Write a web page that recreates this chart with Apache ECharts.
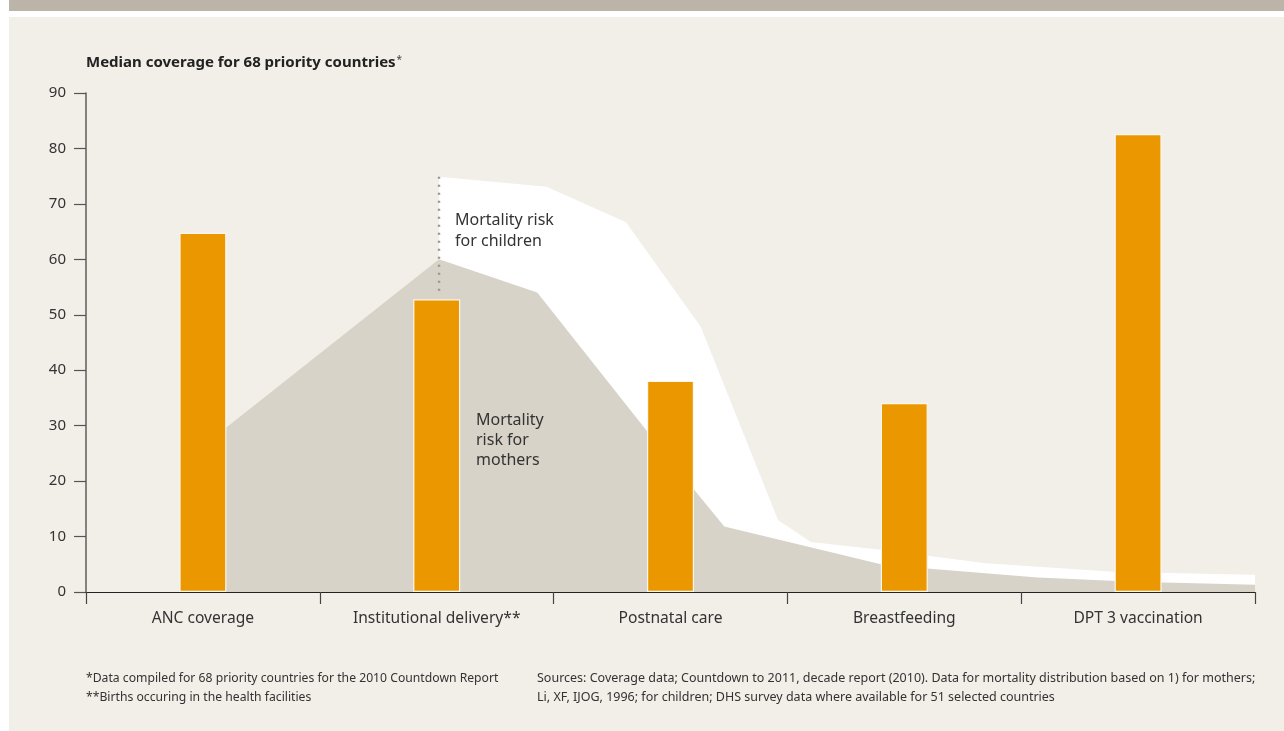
<!DOCTYPE html>
<html>
<head>
<meta charset="utf-8">
<script src="https://cdn.jsdelivr.net/npm/echarts@6/dist/echarts.min.js"></script>
<style>
html,body{margin:0;padding:0;background:#ffffff;}
#main{width:1284px;height:731px;}
</style>
</head>
<body>
<div id="main"></div>
<script>
// ---- data ----
const categories = ['ANC coverage', 'Institutional delivery**', 'Postnatal care', 'Breastfeeding', 'DPT 3 vaccination'];
const coverage = [64.8, 52.8, 38.1, 34.1, 82.6];
const yTicks = [0, 10, 20, 30, 40, 50, 60, 70, 80, 90];
// mortality areas: [position in category units (0..5), value]
const motherRisk = [[0.58, 29.0], [1.51, 60.0], [1.93, 54.0], [2.40, 29.0], [2.61, 18.0], [2.73, 11.8], [3.40, 5.0], [3.61, 4.2], [4.07, 2.6], [4.41, 2.0], [4.61, 1.7], [5.0, 1.3]];
const childRisk = [[1.51, 74.9], [1.97, 73.1], [2.31, 66.7], [2.63, 47.8], [2.96, 13.0], [3.10, 9.0], [3.40, 7.6], [3.85, 5.2], [4.41, 3.6], [5.0, 3.1]];
const dividerLine = [[1.51, 74.9], [1.51, 53.4]];

const FONT = '"Noto Sans", "Open Sans", sans-serif';
const chart = echarts.init(document.getElementById('main'), null, {renderer: 'canvas'});

const option = {
  backgroundColor: '#ffffff',
  animation: false,
  textStyle: {fontFamily: FONT},
  graphic: [
    {type: 'rect', z: -10, shape: {x: 9, y: 0, width: 1275, height: 11}, style: {fill: '#bcb4a8'}},
    {type: 'rect', z: -10, shape: {x: 9, y: 17, width: 1275, height: 714}, style: {fill: '#f2eee8'}},
    {type: 'text', left: 86, top: 55, style: {
      text: '{b|Median coverage for 68 priority countries}{s|*}',
      rich: {
        b: {fontFamily: FONT, fontSize: 15, fontWeight: 'bold', fill: '#222'},
        s: {fontFamily: FONT, fontSize: 10, fill: '#444', verticalAlign: 'top', padding: [0, 0, 6, 1]}
      }
    }},
    {type: 'text', left: 455, top: 210, z: 20, style: {text: 'Mortality risk\nfor children', fontFamily: FONT, fontSize: 16, lineHeight: 21, fill: '#333'}},
    {type: 'text', left: 476, top: 410, z: 20, style: {text: 'Mortality\nrisk for\nmothers', fontFamily: FONT, fontSize: 16, lineHeight: 20, fill: '#333'}},
    {type: 'text', left: 86, top: 669, style: {text: '*Data compiled for 68 priority countries for the 2010 Countdown Report\n**Births occuring in the health facilities', fontFamily: FONT, fontSize: 12.2, lineHeight: 19, fill: '#333'}},
    {type: 'text', left: 537, top: 669, style: {text: 'Sources: Coverage data; Countdown to 2011, decade report (2010). Data for mortality distribution based on 1) for mothers;\nLi, XF, IJOG, 1996; for children; DHS survey data where available for 51 selected countries', fontFamily: FONT, fontSize: 12.5, lineHeight: 19, fill: '#333'}}
  ],
  grid: {left: 86, right: 29, top: 93, bottom: 139, containLabel: false},
  xAxis: [
    {
      type: 'category', data: categories, boundaryGap: true,
      axisLine: {lineStyle: {color: '#222', width: 1.2}},
      axisTick: {show: true, length: 12, inside: false, lineStyle: {color: '#444', width: 1.2}},
      axisLabel: {fontFamily: FONT, fontSize: 15.6, color: '#333', margin: 19},
      z: 10
    },
    {type: 'value', min: 0, max: 5, show: false, position: 'bottom'}
  ],
  yAxis: {
    type: 'value', min: 0, max: 90, interval: 10,
    axisLine: {show: true, lineStyle: {color: '#666', width: 1.6}},
    axisTick: {show: true, length: 12, lineStyle: {color: '#555', width: 1.2}},
    axisLabel: {fontFamily: FONT, fontSize: 15, color: '#333', margin: 20,
      formatter: v => yTicks.indexOf(v) >= 0 ? String(v) : ''},
    splitLine: {show: false}
  },
  series: [
    {
      name: 'children', type: 'line', xAxisIndex: 1, data: childRisk,
      symbol: 'none', lineStyle: {width: 0}, areaStyle: {color: '#ffffff', opacity: 1}, z: 1, silent: true
    },
    {
      name: 'mothers', type: 'line', xAxisIndex: 1, data: motherRisk,
      symbol: 'none', lineStyle: {width: 0}, areaStyle: {color: '#d7d3c9', opacity: 1}, z: 2, silent: true
    },
    {
      name: 'divider', type: 'line', xAxisIndex: 1, data: dividerLine,
      symbol: 'none', lineStyle: {color: '#9c948a', width: 2.4, type: [2, 6]}, z: 3, silent: true
    },
    {
      name: 'coverage', type: 'bar', xAxisIndex: 0, data: coverage, barWidth: 47,
      itemStyle: {color: '#eb9800', borderColor: '#fdf6ea', borderWidth: 1.2}, z: 5
    }
  ]
};
chart.setOption(option);
</script>
</body>
</html>
